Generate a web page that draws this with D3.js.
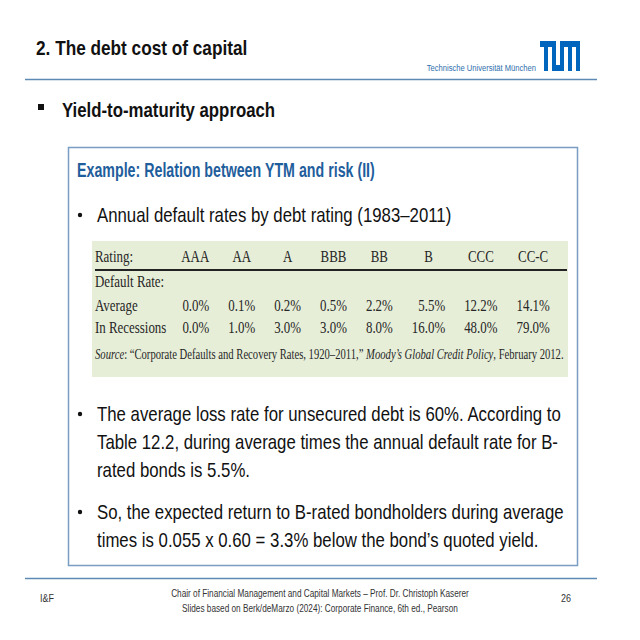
<!DOCTYPE html>
<html><head><meta charset="utf-8">
<script src="https://cdn.jsdelivr.net/npm/d3@7"></script>
<style>html,body{margin:0;padding:0;background:#fff}</style>
</head><body>
<svg id="c" width="640" height="640"></svg>
<script>
// ---------- data ----------
const ratings = ["AAA","AA","A","BBB","BB","B","CCC","CC-C"];
const averageRates = [0.0,0.1,0.2,0.5,2.2,5.5,12.2,14.1];
const recessionRates = [0.0,1.0,3.0,3.0,8.0,16.0,48.0,79.0];
const rowLabels = ["Rating:","Default Rate:","Average","In Recessions"];
const slideTitle = "2. The debt cost of capital";
const uniName = "Technische Universität München";
const sectionTitle = "Yield-to-maturity approach";
const boxTitle = "Example: Relation between YTM and risk (II)";
const bullet1 = "Annual default rates by debt rating (1983–2011)";
const bullet2 = ["The average loss rate for unsecured debt is 60%. According to",
                 "Table 12.2, during average times the annual default rate for B-",
                 "rated bonds is 5.5%."];
const bullet3 = ["So, the expected return to B-rated bondholders during average",
                 "times is 0.055 x 0.60 = 3.3% below the bond’s quoted yield."];
const footLeft = "I&F";
const footCenter = ["Chair of Financial Management and Capital Markets – Prof. Dr. Christoph Kaserer",
                    "Slides based on Berk/deMarzo (2024): Corporate Finance, 6th ed., Pearson"];
const pageNo = "26";

// ---------- styles ----------
const SANS = "'Liberation Sans',Arial,sans-serif";
const SERIF = "'Liberation Serif','Times New Roman',serif";
const BLUE = "#0065bd", LINE = "#5d8ab4", BOXB = "#7a9dc2", BOXT = "#1f5e9c";
const NARROW = 0.82;

const svg = d3.select("#c");
svg.append("rect").attr("width",640).attr("height",640).attr("fill","#fff");

// narrow text helper: text compressed horizontally (Arial Narrow look)
function txt(parent, x, y, s, o){
  o = o || {};
  const g = parent.append("g").attr("transform",`translate(${x},${y}) scale(${o.k||NARROW},1)`);
  return g.append("text").text(s)
    .attr("font-family",o.family||SANS).attr("font-size",o.size||20)
    .attr("font-weight",o.weight||"normal").attr("fill",o.fill||"#111")
    .attr("text-anchor",o.anchor||"start");
}

// header
txt(svg,36,55,slideTitle,{size:21,weight:"bold"});
txt(svg,536,71,uniName,{size:9.5,anchor:"end",fill:"#2f6fae",k:0.8});
const logo = svg.append("g").attr("transform","translate(540,41)").attr("fill",BLUE);
[[0,0,16,6],[4,0,4,30],[12,0,4,30],[12,24,12,6],[20,0,4,30],[20,0,20,6],[28,0,4,30],[36,0,4,30]]
  .forEach(r=>logo.append("rect").attr("x",r[0]).attr("y",r[1]).attr("width",r[2]).attr("height",r[3]));
svg.append("line").attr("x1",25).attr("x2",597).attr("y1",79.5).attr("y2",79.5)
  .attr("stroke",LINE).attr("stroke-width",1.5);

// section
svg.append("rect").attr("x",38).attr("y",104).attr("width",6).attr("height",6).attr("fill","#111");
txt(svg,62,117,sectionTitle,{size:20.5,weight:"bold"});

// box
svg.append("rect").attr("x",68.5).attr("y",147.5).attr("width",509).attr("height",418)
  .attr("fill","#fff").attr("stroke",BOXB).attr("stroke-width",1.5);
txt(svg,77,177,boxTitle,{size:19.5,weight:"bold",fill:BOXT,k:0.73});

function bulletPara(lines, y0, lh){
  svg.append("circle").attr("cx",80).attr("cy",y0-7).attr("r",2.2).attr("fill","#111");
  lines.forEach((t,i)=>txt(svg,97,y0+i*lh,t,{size:20,k:0.84}));
}
bulletPara([bullet1],222,28);
bulletPara(bullet2,421,28);
bulletPara(bullet3,519,28);

// ---------- table ----------
const tblX = 92, tblY = 241, tblW = 476, tblH = 136;
svg.append("rect").attr("x",tblX).attr("y",tblY).attr("width",tblW).attr("height",tblH).attr("fill","#e6eed8");
const sx = 0.76;      // horizontal compression of the serif face
const fs = 17;
const tg = svg.append("g").attr("transform",`translate(95,0) scale(${sx},1)`)
  .attr("font-family",SERIF).attr("font-size",fs).attr("fill","#262626");
const rowY = d3.scaleOrdinal().domain(["hdr","def","avg","rec"]).range([262,287,311,333]);
const fmt = v => v.toFixed(1)+"%";

// measure text widths to lay out columns like an auto-sized table
const meas = tg.append("text").attr("visibility","hidden");
const w = t => { meas.text(t); return meas.node().getComputedTextLength(); };
const gap = 19/sx;
let x = d3.max(rowLabels, w) + 15/sx;
const colRight = [], colW = [];
ratings.forEach((r,i)=>{
  const cw = d3.max([r, fmt(averageRates[i]), fmt(recessionRates[i])], w);
  x += cw; colRight.push(x); colW.push(cw); x += gap;
});
meas.remove();
const xCol = d3.scaleOrdinal().domain(ratings).range(colRight);

tg.append("text").attr("x",0).attr("y",rowY("hdr")).text(rowLabels[0]);
tg.append("text").attr("x",0).attr("y",rowY("def")).text(rowLabels[1]);
tg.append("text").attr("x",0).attr("y",rowY("avg")).text(rowLabels[2]);
tg.append("text").attr("x",0).attr("y",rowY("rec")).text(rowLabels[3]);
tg.selectAll("text.h").data(ratings).join("text").attr("class","h")
  .attr("x",(d,i)=>xCol(d)-colW[i]/2).attr("text-anchor","middle").attr("y",rowY("hdr")).text(d=>d);
tg.selectAll("text.a").data(averageRates).join("text").attr("class","a")
  .attr("x",(d,i)=>xCol(ratings[i])).attr("text-anchor","end").attr("y",rowY("avg")).text(fmt);
tg.selectAll("text.r").data(recessionRates).join("text").attr("class","r")
  .attr("x",(d,i)=>xCol(ratings[i])).attr("text-anchor","end").attr("y",rowY("rec")).text(fmt);
svg.append("line").attr("x1",95).attr("x2",567).attr("y1",270).attr("y2",270)
  .attr("stroke","#222").attr("stroke-width",2);

const src = tg.append("text").attr("x",0).attr("y",359).attr("font-size",14);
src.append("tspan").attr("font-style","italic").text("Source");
src.append("tspan").text(": “Corporate Defaults and Recovery Rates, 1920–2011,” ");
src.append("tspan").attr("font-style","italic").text("Moody’s Global Credit Policy");
src.append("tspan").text(", February 2012.");

// footer
svg.append("line").attr("x1",25).attr("x2",597).attr("y1",578.5).attr("y2",578.5)
  .attr("stroke",LINE).attr("stroke-width",1.5);
txt(svg,40,602,footLeft,{size:11,fill:"#333"});
footCenter.forEach((t,i)=>txt(svg,320,597+i*15,t,{size:10.3,fill:"#333",anchor:"middle",k:0.8}));
txt(svg,566,602,pageNo,{size:11,fill:"#333",anchor:"middle"});
</script>
</body></html>
